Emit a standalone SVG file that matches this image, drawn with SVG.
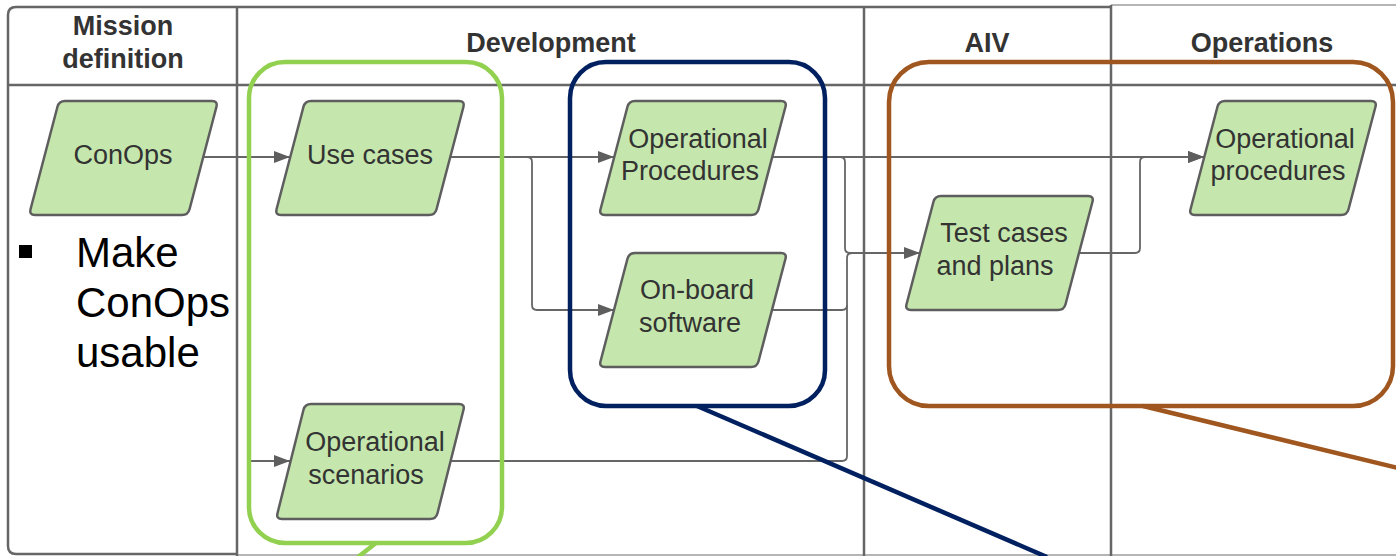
<svg xmlns="http://www.w3.org/2000/svg" width="1396" height="556" viewBox="0 0 1396 556">
  <style>
    .grid { stroke: #666666; stroke-width: 2.5; fill: none; }
    .grid-light { stroke: #b5b5b5; stroke-width: 2; fill: none; }
    .head { font-family: "Liberation Sans", Arial, sans-serif; font-weight: bold; font-size: 27px; fill: #333333; text-anchor: middle; }
    .node-shape { fill: #c5e7ad; stroke: #5e5e5e; stroke-width: 2.5; stroke-linejoin: round; }
    .node-text { font-family: "Liberation Sans", Arial, sans-serif; font-size: 27px; fill: #333333; text-anchor: middle; }
    .conn { fill: none; stroke: #666666; stroke-width: 1.8; }
    .bullet { font-family: "Liberation Sans", Arial, sans-serif; font-size: 42px; fill: #000000; }
    .box { fill: none; stroke-width: 4.5; }
  </style>
  <defs>
    <marker id="arrow" markerUnits="userSpaceOnUse" markerWidth="18" markerHeight="14" refX="16" refY="6" orient="auto">
      <path d="M0,0 L16,6 L0,12 Z" fill="#5e5e5e"/>
    </marker>
  </defs>

  <rect width="1396" height="556" fill="#ffffff"/>

  <!-- swimlane table -->
  <g id="lanes">
    <path class="grid" d="M1111,7 H16 Q8,7 8,15 V546 Q8,554 16,554 H237"/>
    <path class="grid-light" d="M1111,5 H1396"/>
    <path class="grid-light" d="M237,555 H1396"/>
    <path class="grid" d="M8,85 H1396"/>
    <path class="grid" d="M237,7 V556"/>
    <path class="grid" d="M864,7 V556"/>
    <path class="grid" d="M1111,5 V556"/>
    <text class="head" x="123" y="35">Mission</text>
    <text class="head" x="123" y="68">definition</text>
    <text class="head" x="551" y="52">Development</text>
    <text class="head" x="987" y="52">AIV</text>
    <text class="head" x="1262" y="52">Operations</text>
  </g>

  <!-- bullet note -->
  <g id="note">
    <rect x="19" y="245" width="13" height="13" fill="#000000"/>
    <text class="bullet" x="76" y="267">Make</text>
    <text class="bullet" x="76" y="317">ConOps</text>
    <text class="bullet" x="76" y="367">usable</text>
  </g>

  <!-- connectors -->
  <g id="connectors">
    <path class="conn" d="M203,157 H290" marker-end="url(#arrow)"/>
    <path class="conn" d="M450,157 H614" marker-end="url(#arrow)"/>
    <path class="conn" d="M450,157 H527 Q532,157 532,162 V305 Q532,310 537,310 H614" marker-end="url(#arrow)"/>
    <path class="conn" d="M772,157 H1204" marker-end="url(#arrow)"/>
    <path class="conn" d="M772,157 H840 Q845,157 845,162 V248 Q845,253 850,253 H920" marker-end="url(#arrow)"/>
    <path class="conn" d="M772,310 H842 Q847,310 847,305 V258 Q847,253 852,253 H860"/>
    <path class="conn" d="M450,461 H842 Q847,461 847,456 V305"/>
    <path class="conn" d="M1079,253 H1135 Q1140,253 1140,248 V162 Q1140,157 1145,157 H1204" marker-end="url(#arrow)"/>
    <path class="conn" d="M247,461 H290" marker-end="url(#arrow)"/>
  </g>

  <!-- nodes: rounded parallelograms -->
  <g id="conops">
    <path class="node-shape" d="M65,101 H212 Q218,101 216.47,106.8 L189.53,209.2 Q188,215 182,215 H35 Q29,215 30.53,209.2 L57.47,106.8 Q59,101 65,101 Z"/>
    <text class="node-text" x="123" y="164">ConOps</text>
  </g>
  <g id="use-cases">
    <path class="node-shape" d="M311,101 H459 Q465,101 463.47,106.8 L436.53,209.2 Q435,215 429,215 H281 Q275,215 276.53,209.2 L303.47,106.8 Q305,101 311,101 Z"/>
    <text class="node-text" x="370" y="164">Use cases</text>
  </g>
  <g id="operational-procedures-dev">
    <path class="node-shape" d="M635,101 H781 Q787,101 785.47,106.8 L758.53,209.2 Q757,215 751,215 H605 Q599,215 600.53,209.2 L627.47,106.8 Q629,101 635,101 Z"/>
    <text class="node-text" x="698" y="148">Operational</text>
    <text class="node-text" x="690" y="180">Procedures</text>
  </g>
  <g id="onboard-software">
    <path class="node-shape" d="M635,253 H781 Q787,253 785.47,258.8 L758.53,361.2 Q757,367 751,367 H605 Q599,367 600.53,361.2 L627.47,258.8 Q629,253 635,253 Z"/>
    <text class="node-text" x="697" y="299">On-board</text>
    <text class="node-text" x="690" y="332">software</text>
  </g>
  <g id="test-cases">
    <path class="node-shape" d="M941,196 H1088 Q1094,196 1092.47,201.8 L1065.53,304.2 Q1064,310 1058,310 H911 Q905,310 906.53,304.2 L933.47,201.8 Q935,196 941,196 Z"/>
    <text class="node-text" x="1004" y="242">Test cases</text>
    <text class="node-text" x="995" y="275">and plans</text>
  </g>
  <g id="operational-procedures-ops">
    <path class="node-shape" d="M1225,101 H1371 Q1377,101 1375.47,106.8 L1348.53,209.2 Q1347,215 1341,215 H1195 Q1189,215 1190.53,209.2 L1217.47,106.8 Q1219,101 1225,101 Z"/>
    <text class="node-text" x="1285" y="148">Operational</text>
    <text class="node-text" x="1278" y="180">procedures</text>
  </g>
  <g id="operational-scenarios">
    <path class="node-shape" d="M311,404 H459 Q465,404 463.5,409.8 L437.5,513.2 Q436,519 430,519 H282 Q276,519 277.5,513.2 L303.5,409.8 Q305,404 311,404 Z"/>
    <text class="node-text" x="375" y="451">Operational</text>
    <text class="node-text" x="366" y="484">scenarios</text>
  </g>

  <!-- highlight groupings with callout lines -->
  <g id="group-green">
    <rect class="box" x="249" y="62" width="253" height="481" rx="36" stroke="#92d050"/>
    <path class="box" d="M376,543 L358,557" stroke="#92d050"/>
  </g>
  <g id="group-navy">
    <rect class="box" x="570" y="62" width="255" height="344" rx="36" stroke="#002060"/>
    <path class="box" d="M697,406 L1047,557" stroke="#002060"/>
  </g>
  <g id="group-brown">
    <rect class="box" x="889" y="62" width="504" height="344" rx="40" stroke="#a0561f"/>
    <path class="box" d="M1143,406 L1398,468" stroke="#a0561f"/>
  </g>
</svg>
